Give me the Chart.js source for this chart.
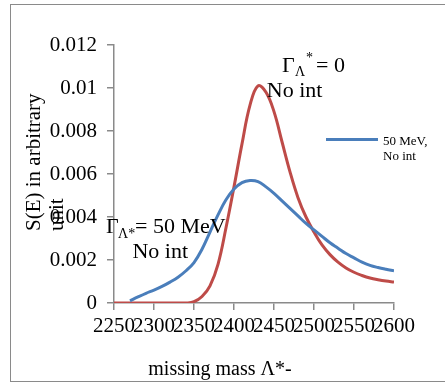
<!DOCTYPE html>
<html>
<head>
<meta charset="utf-8">
<script src="https://cdn.jsdelivr.net/npm/chart.js@4"></script>
<style>
    html, body { margin: 0; padding: 0; background: #fff; overflow: hidden; }
    #cadre { position: absolute; left: 10px; top: 4px; width: 460px; height: 376px;
             border: 1.5px solid #8a8a8a; border-right: none; }
    #zone { position: absolute; left: 0; top: 0; width: 445px; height: 383px; }
</style>
</head>
<body>
<div id="cadre"></div>
<div id="zone"><canvas id="graphique" width="445" height="383"></canvas></div>
<script>
// masse manquante (MeV)
const masses = [2250, 2260, 2270, 2280, 2290, 2300, 2310, 2320, 2330, 2340,
    2350, 2360, 2370, 2380, 2390, 2400, 2410, 2420, 2430, 2440,
    2450, 2460, 2470, 2480, 2490, 2500, 2510, 2520, 2530, 2540,
    2550, 2560, 2570, 2580, 2590, 2600];

// Gamma = 50 MeV, sans interaction
const largeur50 = [null, null, 0.0001, 0.00028, 0.00045, 0.0006, 0.00077, 0.00097, 0.0012, 0.0015,
    0.00188, 0.0025, 0.0033, 0.0041, 0.0048, 0.0053, 0.0056, 0.0057, 0.00565, 0.0054,
    0.0051, 0.00475, 0.0044, 0.00405, 0.0037, 0.0034, 0.0031, 0.0028, 0.00255, 0.0023,
    0.0021, 0.0019, 0.00175, 0.00165, 0.00157, 0.0015];

// Gamma = 0, sans interaction
const largeur0 = [0, 0, 0, 0, 0, 0, 0, 0, 0, 0,
    0.00006, 0.0003, 0.0008, 0.0018, 0.0035, 0.0054, 0.0074, 0.0092, 0.0101, 0.0098,
    0.0089, 0.0075, 0.0061, 0.0049, 0.0040, 0.0033, 0.0027, 0.00225, 0.0019, 0.00163,
    0.00143, 0.00128, 0.00116, 0.00108, 0.00102, 0.00098];

const ticksX = [2250, 2300, 2350, 2400, 2450, 2500, 2550, 2600];
const ticksY = [0, 0.002, 0.004, 0.006, 0.008, 0.01, 0.012];

const police = '"Liberation Serif", "Times New Roman", serif';
const gris = '#8a8a8a';

function versPoints(valeurs) {
    const points = [];
    for (let i = 0; i < masses.length; i++) {
        if (valeurs[i] !== null) {
            points.push({x: masses[i], y: valeurs[i]});
        }
    }
    return points;
}

/**
 * Dessine les titres d'axes, les annotations et la légende
 */
const textes = {
    id: 'textes',
    afterDraw(chart) {
        const ctx = chart.ctx;
        const sx = chart.scales.x;
        const sy = chart.scales.y;
        ctx.save();
        ctx.fillStyle = '#000';
        ctx.textBaseline = 'alphabetic';

        // titre axe x
        ctx.font = '20px ' + police;
        ctx.textAlign = 'center';
        ctx.fillText('missing mass \u039B*-', 220, 375);

        // titre axe y (sur deux lignes)
        ctx.save();
        ctx.translate(40, 231);
        ctx.rotate(-Math.PI / 2);
        ctx.textAlign = 'left';
        ctx.font = '21px ' + police;
        ctx.fillText('S(E) in arbitrary', 0, 0);
        ctx.fillText('unit', 0, 23);
        ctx.restore();

        // annotation Gamma = 0
        ctx.textAlign = 'left';
        let x = sx.getPixelForValue(2460);
        let y = sy.getPixelForValue(0.01075);
        ctx.font = '22px ' + police;
        ctx.fillText('\u0393', x, y);
        ctx.font = '14px ' + police;
        ctx.fillText('\u039B', x + 13, y + 4);
        ctx.fillText('*', x + 24, y - 10);
        ctx.font = '22px ' + police;
        ctx.fillText('= 0', x + 34, y);
        ctx.fillText('No int', sx.getPixelForValue(2441), sy.getPixelForValue(0.0096));

        // annotation Gamma = 50 MeV
        x = sx.getPixelForValue(2240);
        y = sy.getPixelForValue(0.00325);
        ctx.fillText('\u0393', x, y);
        ctx.font = '14px ' + police;
        ctx.fillText('\u039B*', x + 12, y + 5);
        ctx.font = '22px ' + police;
        ctx.fillText('= 50 MeV', x + 29, y);
        ctx.fillText('No int', sx.getPixelForValue(2273), sy.getPixelForValue(0.00209));

        // légende
        const ds = chart.data.datasets[0];
        const lx = sx.getPixelForValue(2515);
        const ly = sy.getPixelForValue(0.0076);
        ctx.strokeStyle = ds.borderColor;
        ctx.lineWidth = 3;
        ctx.beginPath();
        ctx.moveTo(lx, ly);
        ctx.lineTo(lx + 52, ly);
        ctx.stroke();
        ctx.font = '13px ' + police;
        const morceaux = ds.label.split(', ');
        ctx.fillText(morceaux[0] + ',', lx + 57, ly + 5);
        ctx.fillText(morceaux[1], lx + 57, ly + 20);
        ctx.restore();
    }
};

const ctx = document.getElementById('graphique').getContext('2d');
new Chart(ctx, {
    type: 'line',
    data: {
        datasets: [
            {
                label: '50 MeV, No int',
                data: versPoints(largeur50),
                borderColor: '#4a7ebb',
                borderWidth: 3,
                fill: false
            },
            {
                label: '0, No int',
                data: versPoints(largeur0),
                borderColor: '#be4b48',
                borderWidth: 3,
                fill: false
            }
        ]
    },
    plugins: [textes],
    options: {
        responsive: false,
        animation: false,
        layout: {padding: {left: 0, top: 45, right: 51, bottom: 0}},
        elements: {
            point: {radius: 0},
            line: {tension: 0.4}
        },
        plugins: {
            legend: {display: false},
            tooltip: {enabled: false}
        },
        scales: {
            x: {
                type: 'linear',
                min: 2250,
                max: 2600,
                afterBuildTicks: (scale) => { scale.ticks = ticksX.map(v => ({value: v})); },
                afterFit: (scale) => { scale.height = 80; },
                grid: {drawOnChartArea: false, drawTicks: true, tickLength: 7, color: gris, lineWidth: 1.5},
                border: {color: gris, width: 1.5},
                ticks: {
                    autoSkip: false,
                    maxRotation: 0,
                    padding: 4,
                    color: '#000',
                    font: {family: police, size: 21},
                    callback: (v) => String(v)
                }
            },
            y: {
                min: 0,
                max: 0.012,
                afterBuildTicks: (scale) => { scale.ticks = ticksY.map(v => ({value: v})); },
                afterFit: (scale) => { scale.width = 114; },
                grid: {drawOnChartArea: false, drawTicks: true, tickLength: 7, color: gris, lineWidth: 1.5},
                border: {color: gris, width: 1.5},
                ticks: {
                    padding: 10,
                    color: '#000',
                    font: {family: police, size: 21},
                    callback: (v) => String(parseFloat(v.toFixed(3)))
                }
            }
        }
    }
});
</script>
</body>
</html>
